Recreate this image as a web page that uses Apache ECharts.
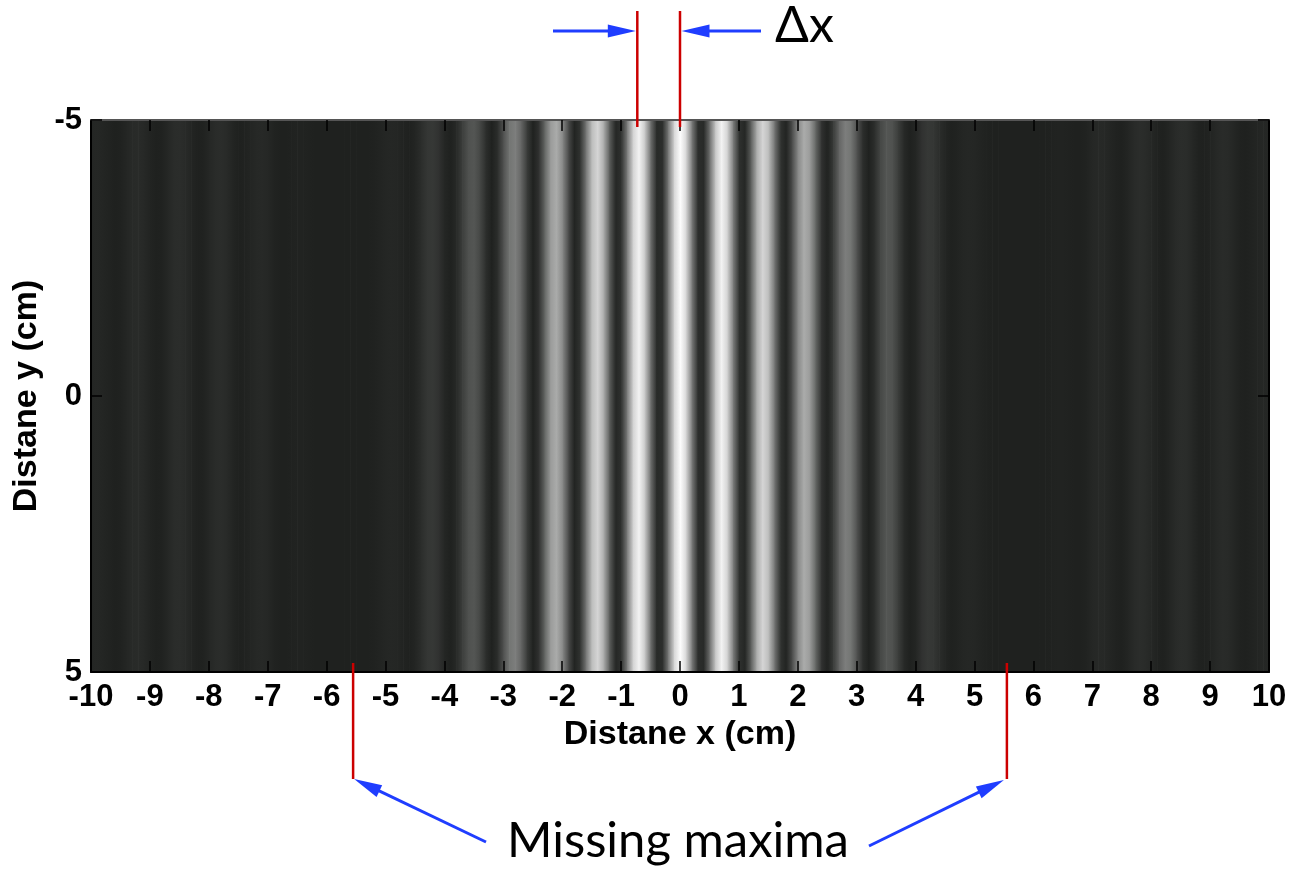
<!DOCTYPE html>
<html><head><meta charset="utf-8">
<script src="https://cdn.jsdelivr.net/npm/echarts@6/dist/echarts.min.js"></script>
<style>html,body{margin:0;padding:0;background:#fff}#c{width:1291px;height:870px}</style>
</head><body><div id="c"></div>
<script>
// sampling of the intensity profile (x from -10 to 10 cm)
const xStart = -10;
const xStep = 0.1;
const intensity = [
0.022,0.026,0.019,0.008,0.000,0.005,0.021,0.039,0.044,0.033,
0.014,0.001,0.006,0.026,0.048,0.055,0.042,0.018,0.001,0.004,
0.025,0.046,0.052,0.040,0.017,0.002,0.003,0.016,0.031,0.034,
0.025,0.011,0.001,0.001,0.006,0.010,0.010,0.006,0.002,0.000,
0.000,0.000,0.000,0.000,0.001,0.001,0.001,0.000,0.004,0.013,
0.024,0.028,0.021,0.007,0.000,0.017,0.055,0.094,0.104,0.074,
0.024,0.000,0.037,0.127,0.216,0.238,0.169,0.060,0.000,0.058,
0.218,0.377,0.420,0.306,0.116,0.002,0.074,0.309,0.551,0.625,
0.468,0.191,0.009,0.079,0.378,0.702,0.816,0.629,0.274,0.021,
0.073,0.411,0.798,0.951,0.754,0.349,0.039,0.057,0.400,0.816,
1.000,
0.816,0.400,0.057,0.039,0.349,0.754,0.951,0.798,0.411,0.073,
0.021,0.274,0.629,0.816,0.702,0.378,0.079,0.009,0.191,0.468,
0.625,0.551,0.309,0.074,0.002,0.116,0.306,0.420,0.377,0.218,
0.058,0.000,0.060,0.169,0.238,0.216,0.127,0.037,0.000,0.024,
0.074,0.104,0.094,0.055,0.017,0.000,0.007,0.021,0.028,0.024,
0.013,0.004,0.000,0.001,0.001,0.001,0.000,0.000,0.000,0.000,
0.000,0.002,0.006,0.010,0.010,0.006,0.001,0.001,0.011,0.025,
0.034,0.031,0.016,0.003,0.002,0.017,0.040,0.052,0.046,0.025,
0.004,0.001,0.018,0.042,0.055,0.048,0.026,0.006,0.001,0.014,
0.033,0.044,0.039,0.021,0.005,0.000,0.008,0.019,0.026,0.022
];
const xAxisRange = [-10, 10];
const xTickInterval = 1;
const yAxisRange = [-5, 5];
const yTickInterval = 5;
const xTitle = 'Distane x (cm)';
const yTitle = 'Distane y (cm)';
const deltaXMarks = [-0.725, 0];
const missingMaximaMarks = [-5.55, 5.55];
const deltaLabel = 'Δx';
const missingLabel = 'Missing maxima';

function gray(v) {
  const r = Math.round(31 + 224 * v), g = Math.round(33 + 222 * v), b = Math.round(31 + 224 * v);
  return 'rgb(' + r + ',' + g + ',' + b + ')';
}

const segData = [];
for (let i = 0; i < intensity.length - 1; i++) {
  segData.push([xStart + i * xStep, xStart + (i + 1) * xStep, intensity[i], intensity[i + 1]]);
}

const chart = echarts.init(document.getElementById('c'), null, {renderer: 'canvas'});
const labelFont = {fontFamily: 'Liberation Sans', fontWeight: 'bold', fontSize: 31, color: '#000'};
const titleFont = {fontFamily: 'Liberation Sans', fontWeight: 'bold', fontSize: 34, color: '#000'};
const lineStyle = {color: '#000', width: 2};
const tickStyle = {color: '#000', width: 1.5};

chart.setOption({
  animation: false,
  backgroundColor: '#fff',
  grid: {left: 91, right: 22, top: 120, bottom: 198, show: false},
  xAxis: [
    {type: 'value', min: xAxisRange[0], max: xAxisRange[1], interval: xTickInterval, position: 'bottom', z: 10,
     axisLine: {show: true, onZero: false, lineStyle: lineStyle},
     axisTick: {show: true, inside: true, length: 11, lineStyle: tickStyle},
     axisLabel: Object.assign({margin: 10}, labelFont),
     splitLine: {show: false},
     name: xTitle, nameLocation: 'middle', nameGap: 46, nameTextStyle: titleFont},
    {type: 'value', min: xAxisRange[0], max: xAxisRange[1], interval: xTickInterval, position: 'top', z: 10,
     axisLine: {show: true, onZero: false, lineStyle: {color: '#555', width: 2}},
     axisTick: {show: true, inside: true, length: 11, lineStyle: tickStyle},
     axisLabel: {show: false}, splitLine: {show: false}}
  ],
  yAxis: [
    {type: 'value', min: yAxisRange[0], max: yAxisRange[1], interval: yTickInterval, inverse: true, position: 'left', z: 10,
     axisLine: {show: true, onZero: false, lineStyle: lineStyle},
     axisTick: {show: true, inside: true, length: 11, lineStyle: tickStyle},
     axisLabel: Object.assign({margin: 9}, labelFont),
     splitLine: {show: false},
     name: yTitle, nameLocation: 'middle', nameGap: 43, nameTextStyle: titleFont},
    {type: 'value', min: yAxisRange[0], max: yAxisRange[1], interval: yTickInterval, inverse: true, position: 'right', z: 10,
     axisLine: {show: true, onZero: false, lineStyle: lineStyle},
     axisTick: {show: true, inside: true, length: 11, lineStyle: tickStyle},
     axisLabel: {show: false}, splitLine: {show: false}}
  ],
  series: [{
    type: 'custom',
    xAxisIndex: 0, yAxisIndex: 0,
    clip: true,
    encode: {x: [0, 1], y: 2},
    data: segData,
    renderItem: function (params, api) {
      const x0 = api.value(0), x1 = api.value(1);
      const p0 = api.coord([x0, yAxisRange[0]]);
      const p1 = api.coord([x1, yAxisRange[1]]);
      return {
        type: 'rect',
        shape: {x: p0[0], y: Math.min(p0[1], p1[1]), width: (p1[0] - p0[0]) + 0.7, height: Math.abs(p1[1] - p0[1])},
        style: {
          fill: {type: 'linear', x: 0, y: 0, x2: 1, y2: 0, global: false,
            colorStops: [{offset: 0, color: gray(api.value(2))}, {offset: 1, color: gray(api.value(3))}]}
        }
      };
    }
  }]
});

// annotations positioned from data coordinates
const px = v => chart.convertToPixel({xAxisIndex: 0}, v);
const RED = '#cc0000', BLUE = '#1f3dff';
function arrow(tx, ty, hx, hy) {
  const dx = hx - tx, dy = hy - ty, L = Math.sqrt(dx * dx + dy * dy);
  const ux = dx / L, uy = dy / L, hl = 28, hw = 6.5;
  const bx = hx - ux * hl, by = hy - uy * hl;
  return [
    {type: 'line', shape: {x1: tx, y1: ty, x2: bx + ux * 2, y2: by + uy * 2}, style: {stroke: BLUE, lineWidth: 3}, z: 100},
    {type: 'polygon', shape: {points: [[hx, hy], [bx - uy * hw, by + ux * hw], [bx + uy * hw, by - ux * hw]]}, style: {fill: BLUE}, z: 100}
  ];
}
const g = [];
deltaXMarks.forEach(v => g.push({type: 'line', shape: {x1: px(v), y1: 11, x2: px(v), y2: 127}, style: {stroke: RED, lineWidth: 2.5}, z: 100}));
missingMaximaMarks.forEach(v => g.push({type: 'line', shape: {x1: px(v), y1: 663, x2: px(v), y2: 779}, style: {stroke: RED, lineWidth: 2.5}, z: 100}));
g.push(...arrow(553, 31, px(deltaXMarks[0]) - 1.5, 31));
g.push(...arrow(761, 31, px(deltaXMarks[1]) + 1.5, 31));
g.push(...arrow(486, 842, px(missingMaximaMarks[0]) + 1, 779));
g.push(...arrow(869, 846, px(missingMaximaMarks[1]) - 3, 780));
g.push({type: 'text', x: 775, y: 26, z: 100, style: {text: deltaLabel, font: '50px Lato', fill: '#000', align: 'left', verticalAlign: 'middle'}});
g.push({type: 'text', x: 678, y: 841, z: 100, style: {text: missingLabel, font: '49px Lato', fill: '#000', align: 'center', verticalAlign: 'middle'}});
chart.setOption({graphic: g});
</script>
</body></html>
